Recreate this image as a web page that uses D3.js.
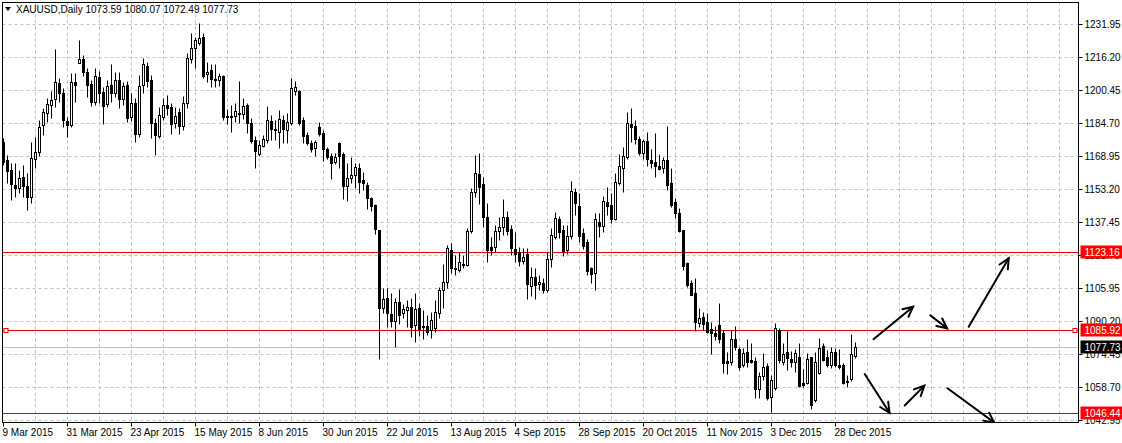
<!DOCTYPE html>
<html>
<head>
<meta charset="utf-8">
<script src="https://cdn.jsdelivr.net/npm/d3@7"></script>
<style>
  body { margin: 0; background: #fff; }
  svg { display: block; font-family: "Liberation Sans", Arial, sans-serif; }
</style>
</head>
<body>
<svg id="chart" width="1122" height="443"></svg>
<script>
// XAUUSD daily bars, 9 Mar 2015 .. 5 Jan 2016
var opens = [1175.5,1167.0,1162.3,1155.1,1153.5,1159.1,1154.6,1149.2,1167.4,1171.0,
1183.7,1189.3,1193.3,1196.0,1203.6,1199.2,1185.6,1183.6,1204.1,1213.5,
1215.1,1208.9,1203.2,1194.9,1206.8,1199.5,1193.6,1202.8,1199.2,1205.2,
1196.0,1202.8,1187.7,1194.1,1179.4,1202.7,1211.9,1205.2,1184.8,1178.5,
1187.7,1193.3,1192.2,1184.5,1189.8,1183.3,1194.1,1215.1,1220.3,1223.0,
1225.9,1207.9,1210.0,1205.7,1205.2,1207.3,1188.0,1188.0,1188.0,1189.6,
1188.8,1193.3,1184.8,1176.6,1169.9,1173.9,1176.6,1185.6,1181.8,1180.5,
1186.1,1181.4,1184.8,1200.1,1200.0,1186.1,1179.0,1175.3,1172.9,1182.8,
1179.8,1172.3,1168.9,1166.2,1175.0,1169.9,1154.8,1158.3,1159.9,1163.4,
1157.5,1155.1,1148.7,1145.5,1133.6,1096.2,1101.0,1093.5,1090.3,1099.1,
1093.9,1095.4,1096.7,1088.3,1096.2,1087.8,1087.8,1085.9,1086.9,1094.0,
1105.0,1108.6,1124.1,1115.3,1114.5,1116.9,1116.9,1133.3,1151.6,1160.3,
1155.6,1139.7,1125.4,1125.4,1133.1,1134.9,1139.7,1134.0,1124.4,1123.3,
1119.0,1122.2,1106.7,1111.0,1107.8,1108.5,1105.0,1119.6,1130.4,1138.7,
1133.6,1124.1,1130.8,1151.9,1145.1,1132.1,1128.0,1115.3,1113.2,1137.6,
1135.5,1146.8,1145.6,1138.9,1155.9,1163.1,1168.3,1184.2,1183.3,1176.9,
1170.5,1176.1,1167.0,1166.2,1164.2,1163.1,1167.0,1155.9,1146.8,1141.6,
1133.6,1117.7,1108.2,1103.4,1089.1,1092.2,1089.6,1086.2,1084.3,1088.1,
1084.3,1071.1,1070.5,1081.4,1076.7,1069.2,1075.5,1071.6,1071.2,1057.7,
1063.9,1068.7,1054.1,1058.3,1085.9,1070.5,1075.2,1071.9,1070.8,1072.9,
1060.4,1060.7,1072.9,1052.5,1065.2,1078.3,1072.9,1069.2,1075.5,1069.2,
1069.2,1061.6,1062.4,1073.59];
var highs = [1177.5,1169.4,1165.6,1165.6,1162.3,1164.6,1160.7,1175.8,1178.2,1186.1,
1192.0,1196.8,1200.0,1219.9,1206.0,1201.3,1187.7,1208.7,1208.4,1224.3,
1217.1,1210.8,1205.2,1210.8,1209.7,1202.0,1205.2,1212.9,1209.2,1209.2,
1204.4,1204.7,1198.9,1196.5,1207.6,1215.6,1213.9,1207.6,1186.9,1192.2,
1196.5,1198.1,1194.1,1192.5,1191.7,1197.6,1218.2,1227.5,1225.9,1232.3,
1227.5,1213.7,1212.9,1212.9,1208.4,1207.6,1191.2,1193.3,1194.1,1204.7,
1196.5,1194.1,1186.9,1178.5,1176.6,1179.0,1192.8,1188.5,1186.1,1190.9,
1188.5,1189.3,1206.0,1204.9,1200.4,1187.7,1180.5,1176.6,1176.6,1185.2,
1181.4,1173.4,1170.2,1170.2,1175.8,1171.0,1165.5,1168.6,1165.7,1165.5,
1161.4,1156.7,1149.5,1145.9,1133.6,1105.8,1105.8,1103.4,1101.3,1105.3,
1098.3,1100.2,1101.0,1103.7,1098.6,1095.4,1093.0,1094.5,1100.2,1106.6,
1117.4,1126.5,1127.3,1121.7,1123.3,1121.7,1134.4,1153.5,1169.4,1170.2,
1159.1,1146.4,1130.4,1136.0,1139.7,1148.3,1142.8,1136.0,1132.8,1125.4,
1124.9,1124.9,1116.1,1115.3,1112.1,1110.6,1123.3,1134.4,1142.4,1140.3,
1136.0,1136.0,1157.0,1153.5,1151.1,1134.4,1129.2,1116.1,1141.6,1141.6,
1149.9,1154.0,1151.4,1160.7,1169.8,1173.4,1190.1,1191.7,1186.0,1178.5,
1176.9,1180.5,1172.1,1180.0,1169.9,1168.6,1183.3,1163.1,1148.7,1144.0,
1133.6,1118.5,1109.8,1110.6,1096.2,1094.6,1093.9,1089.9,1087.9,1098.9,
1085.9,1075.5,1085.9,1087.8,1077.9,1077.2,1081.4,1079.8,1073.1,1066.0,
1075.1,1070.0,1064.4,1089.1,1086.7,1079.5,1085.6,1076.0,1076.7,1079.5,
1067.1,1074.8,1073.1,1075.5,1081.9,1079.5,1076.3,1077.9,1077.2,1076.7,
1070.0,1064.4,1083.9,1080.07];
var lows = [1164.6,1156.1,1147.9,1149.4,1151.1,1149.5,1143.2,1146.6,1163.1,1168.9,
1179.0,1185.3,1186.9,1192.2,1194.9,1182.6,1178.2,1182.9,1194.9,1213.2,
1207.3,1197.2,1192.8,1193.3,1194.1,1184.1,1192.2,1194.9,1197.0,1191.7,
1193.3,1185.3,1185.8,1175.5,1178.2,1198.9,1202.0,1177.4,1169.4,1177.4,
1186.1,1188.5,1179.3,1182.2,1179.3,1181.4,1191.7,1213.2,1211.1,1221.9,
1206.0,1204.3,1201.7,1201.7,1202.4,1186.1,1184.1,1180.5,1185.0,1184.8,
1186.5,1179.8,1175.0,1163.1,1168.9,1173.4,1175.0,1176.6,1176.6,1172.9,
1175.3,1175.0,1183.7,1198.1,1183.7,1175.0,1174.2,1171.0,1168.9,1178.5,
1166.7,1167.4,1157.8,1165.0,1163.1,1148.3,1147.5,1155.9,1153.8,1151.4,
1152.7,1143.5,1142.7,1131.6,1071.9,1094.1,1087.2,1087.5,1077.6,1088.6,
1091.8,1087.5,1082.7,1080.3,1083.0,1081.5,1083.5,1082.1,1084.9,1091.6,
1096.2,1105.8,1113.0,1112.1,1113.7,1115.3,1116.4,1132.3,1149.5,1146.0,
1134.9,1118.5,1121.7,1123.3,1128.9,1131.2,1131.2,1121.7,1118.5,1116.4,
1117.4,1100.5,1102.1,1100.5,1105.0,1103.4,1104.2,1116.1,1129.2,1129.7,
1121.2,1122.2,1129.2,1140.8,1128.0,1124.4,1112.1,1108.5,1105.0,1130.4,
1132.8,1140.8,1137.1,1138.4,1155.1,1151.9,1167.4,1175.6,1174.7,1169.4,
1167.4,1164.2,1163.1,1159.1,1162.3,1161.0,1152.7,1144.7,1139.2,1132.8,
1114.5,1106.6,1102.6,1085.6,1087.5,1085.9,1084.3,1074.3,1081.1,1079.5,
1065.5,1064.9,1069.2,1076.3,1066.8,1068.4,1068.1,1070.0,1053.3,1053.3,
1062.0,1052.5,1046.9,1057.3,1070.0,1069.2,1066.8,1068.4,1066.0,1058.5,
1058.8,1060.1,1048.0,1051.7,1064.9,1071.1,1068.4,1067.6,1068.1,1067.1,
1060.1,1058.5,1061.6,1072.49];
var closes = [1166.2,1161.9,1155.4,1153.8,1158.3,1154.8,1149.5,1167.8,1171.0,1182.6,
1189.8,1193.6,1195.7,1204.4,1198.9,1186.1,1183.6,1204.1,1202.7,1215.1,
1209.2,1202.7,1194.9,1207.3,1198.9,1192.6,1202.5,1198.9,1205.2,1196.0,
1202.4,1187.2,1194.1,1179.3,1202.4,1212.9,1204.9,1184.5,1178.8,1188.5,
1193.3,1191.7,1184.1,1188.2,1183.3,1194.1,1215.6,1220.3,1224.3,1225.1,
1207.3,1208.9,1205.7,1205.4,1207.1,1187.4,1187.4,1187.7,1190.4,1188.8,
1192.8,1184.5,1176.1,1171.5,1174.2,1177.1,1186.1,1181.8,1181.4,1186.5,
1181.7,1185.3,1201.3,1201.7,1184.8,1178.6,1175.3,1172.3,1175.6,1179.4,
1172.1,1168.6,1165.7,1168.3,1169.1,1154.8,1158.3,1159.9,1163.8,1156.7,
1155.9,1148.7,1145.1,1134.2,1096.2,1100.5,1094.1,1090.3,1099.1,1093.0,
1095.9,1096.7,1087.5,1095.9,1086.2,1087.5,1085.1,1090.7,1094.5,1105.0,
1108.6,1124.9,1115.3,1114.9,1118.2,1117.4,1133.1,1151.9,1160.7,1154.3,
1140.0,1124.1,1124.1,1133.3,1134.9,1139.7,1133.1,1124.9,1122.0,1119.0,
1120.6,1107.7,1111.0,1107.6,1109.0,1105.0,1119.6,1131.2,1139.2,1132.8,
1123.7,1130.8,1152.2,1146.4,1130.8,1126.1,1114.2,1112.6,1138.9,1135.5,
1147.5,1145.1,1138.9,1156.4,1164.2,1168.9,1184.5,1182.9,1176.9,1170.5,
1176.1,1167.4,1165.7,1164.3,1162.7,1167.0,1155.1,1145.6,1141.9,1133.1,
1116.6,1107.4,1102.6,1089.6,1091.5,1088.8,1085.1,1084.3,1083.0,1081.4,
1070.0,1070.0,1081.4,1077.9,1068.4,1074.8,1070.5,1070.5,1057.7,1063.9,
1068.4,1053.3,1062.0,1086.7,1071.6,1074.3,1072.4,1070.8,1074.8,1059.2,
1059.6,1071.9,1050.1,1070.8,1077.2,1071.6,1069.2,1075.5,1069.2,1068.1,
1060.7,1061.1,1074.4,1077.73];

// one date label every 16 bars
var dateLabels = ["9 Mar 2015","31 Mar 2015","23 Apr 2015","15 May 2015","8 Jun 2015",
  "30 Jun 2015","22 Jul 2015","13 Aug 2015","4 Sep 2015","28 Sep 2015",
  "20 Oct 2015","11 Nov 2015","3 Dec 2015","28 Dec 2015"];
var priceTicks = [1042.95,1058.70,1074.45,1090.20,1105.95,1121.70,1137.45,
  1153.20,1168.95,1184.70,1200.45,1216.20,1231.95];
var levelLines = [1123.16, 1085.92, 1046.44];
var lastPrice = 1077.73;
var symbol = "XAUUSD,Daily";
// drawn arrows: [bar0, price0, bar1, price1]
var arrows = [
  [217.5, 1081.5, 227.4, 1097.0],
  [231.7, 1092.9, 235.9, 1086.7],
  [241.3, 1087.5, 251.3, 1120.1],
  [215.3, 1064.9, 221.5, 1046.4],
  [225.3, 1049.9, 230.2, 1059.3],
  [236.0, 1058.1, 247.7, 1041.7]
];

function drawChart() {
  var svg = d3.select("#chart");
  var pL = 2.5, pR = 1078.5, pT = 2.5, pB = 422.5;

  var x = d3.scaleLinear().domain([0, 1]).range([3.5, 7.5]);
  var y = d3.scaleLinear().domain([1042.95, 1231.95]).range([420, 24]);
  var py = function(v){ return Math.round(y(v)) + 0.5; };

  svg.append("defs").append("clipPath").attr("id", "plot")
     .append("rect").attr("x", pL).attr("y", pT)
     .attr("width", pR - pL).attr("height", pB - pT);

  var plot = svg.append("g").attr("clip-path", "url(#plot)");

  // grid
  plot.selectAll(".hgrid").data(priceTicks).enter().append("line")
      .attr("x1", pL).attr("x2", pR)
      .attr("y1", d => py(d)).attr("y2", d => py(d))
      .style("stroke", "#c0c0c0").style("stroke-dasharray", "3,3");

  var vgrid = d3.range(8, 270, 8);
  plot.selectAll(".vgrid").data(vgrid).enter().append("line")
      .attr("x1", d => x(d)).attr("x2", d => x(d))
      .attr("y1", pT).attr("y2", pB)
      .style("stroke", "#c0c0c0").style("stroke-dasharray", "3,3");

  // current price line and level lines
  plot.append("line").attr("x1", pL).attr("x2", pR)
      .attr("y1", py(lastPrice)).attr("y2", py(lastPrice))
      .style("stroke", "#c0c0c0");

  plot.selectAll(".level").data(levelLines).enter().append("line")
      .attr("x1", pL).attr("x2", pR)
      .attr("y1", d => py(d)).attr("y2", d => py(d))
      .style("stroke", "#e00000");

  // candles
  var bars = d3.range(opens.length);
  plot.selectAll(".wick").data(bars).enter().append("line")
      .attr("x1", i => x(i)).attr("x2", i => x(i))
      .attr("y1", i => py(highs[i])).attr("y2", i => py(lows[i]))
      .style("stroke", "#000");

  plot.selectAll(".body").data(bars).enter().append("rect")
      .attr("x", i => x(i) - 1)
      .attr("y", i => py(Math.max(opens[i], closes[i])))
      .attr("width", 2)
      .attr("height", i => Math.max(0, py(Math.min(opens[i], closes[i])) - py(Math.max(opens[i], closes[i]))))
      .attr("fill", i => closes[i] > opens[i] ? "#fff" : "#000")
      .style("stroke", "#000");

  // arrows
  arrows.forEach(function(a){
    var x0 = x(a[0]), y0 = y(a[1]), x1 = x(a[2]), y1 = y(a[3]);
    var ang = Math.atan2(y1 - y0, x1 - x0), L = 11, s = 0.45;
    var g = plot.append("g").style("stroke", "#000").style("stroke-width", 2)
                .style("fill", "none").style("stroke-linecap", "round");
    g.append("line").attr("x1", x0).attr("y1", y0).attr("x2", x1).attr("y2", y1);
    g.append("path").attr("d",
        "M" + (x1 - L * Math.cos(ang - s)) + "," + (y1 - L * Math.sin(ang - s)) +
        "L" + x1 + "," + y1 +
        "L" + (x1 - L * Math.cos(ang + s)) + "," + (y1 - L * Math.sin(ang + s)));
  });

  // selection squares on the 1085.92 line
  [6, 1075].forEach(function(px){
    svg.append("rect").attr("x", px - 2).attr("y", py(levelLines[1]) - 2)
       .attr("width", 4).attr("height", 4)
       .attr("fill", "#fff").style("stroke", "#e00000");
  });

  // frame
  svg.append("rect").attr("x", pL).attr("y", pT)
     .attr("width", pR - pL).attr("height", pB - pT)
     .attr("fill", "none").style("stroke", "#000");

  // price axis
  var axisG = svg.append("g").style("font-size", "10px");
  axisG.selectAll(".tick").data(priceTicks).enter().append("line")
       .attr("x1", pR).attr("x2", pR + 4)
       .attr("y1", d => py(d)).attr("y2", d => py(d))
       .style("stroke", "#000");
  axisG.selectAll(".lbl").data(priceTicks).enter().append("text")
       .attr("x", pR + 6).attr("y", d => py(d) + 3.5)
       .attr("fill", "#000")
       .text(d => d.toFixed(2));

  // price tags
  var tags = levelLines.map(v => ({v: v, bg: "#ff0000"}));
  tags.push({v: lastPrice, bg: "#000"});
  tags.forEach(function(t){
    axisG.append("rect").attr("x", pR + 2).attr("y", py(t.v) - 7)
         .attr("width", 42).attr("height", 13).attr("fill", t.bg);
    axisG.append("text").attr("x", pR + 6).attr("y", py(t.v) + 3.5)
         .attr("fill", "#fff").text(t.v.toFixed(2));
  });

  // time axis
  var timeG = svg.append("g").style("font-size", "10px");
  timeG.selectAll(".dt").data(dateLabels).enter().append("line")
       .attr("x1", (d, i) => x(i * 16)).attr("x2", (d, i) => x(i * 16))
       .attr("y1", pB).attr("y2", pB + 4)
       .style("stroke", "#000");
  timeG.selectAll(".dl").data(dateLabels).enter().append("text")
       .attr("x", (d, i) => x(i * 16) - 1).attr("y", 436)
       .attr("fill", "#000").text(d => d);

  // title
  var n = opens.length - 1;
  svg.append("path").attr("d", "M5,7L11,7L8,11Z").attr("fill", "#000");
  svg.append("text").attr("x", 16).attr("y", 13).style("font-size", "10px")
     .attr("fill", "#000")
     .text(symbol + "  " + [opens[n], highs[n], lows[n], closes[n]].map(v => v.toFixed(2)).join(" "));
}

drawChart();
</script>
</body>
</html>
